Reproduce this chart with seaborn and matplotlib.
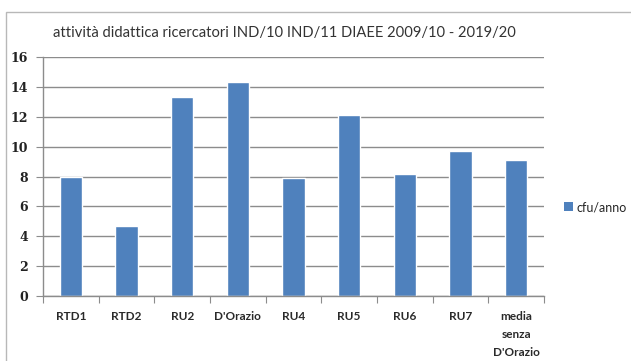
import matplotlib
matplotlib.use("Agg")
import matplotlib.pyplot as plt
from matplotlib.patches import Rectangle, Patch
from matplotlib.ticker import FixedLocator
import seaborn as sns
import pandas as pd

# teaching load per researcher (cfu per year)
categories = ["RTD1", "RTD2", "RU2", "D'Orazio", "RU4", "RU5", "RU6", "RU7",
              "media\nsenza\nD'Orazio"]
cfu_anno = [8.0, 4.7, 13.3, 14.3, 7.9, 12.1, 8.2, 9.7, 9.1]
y_ticks = [0, 2, 4, 6, 8, 10, 12, 14, 16]
series_name = "cfu/anno"
title = "attività didattica ricercatori IND/10 IND/11 DIAEE 2009/10 - 2019/20"

df = pd.DataFrame({"persona": categories, "valore": cfu_anno})

sns.set_theme(style="white")
plt.rcParams["font.family"] = ["Lato", "DejaVu Sans"]

W, H = 631, 361
fig = plt.figure(figsize=(W / 100, H / 100), dpi=100)
fig.patch.set_facecolor("white")

# chart frame
fig.add_artist(Rectangle((6 / W, -0.1), 1.2, 1 - 12 / H + 0.1,
                         transform=fig.transFigure, fill=False,
                         edgecolor="#b8b8b8", linewidth=1.0))

ax = fig.add_axes([43 / W, 1 - 296 / H, (544 - 43) / W, (296 - 57) / H])
bar_color = "#4f81bd"
sns.barplot(data=df, x="persona", y="valore", color=bar_color, width=0.4,
            saturation=1, ax=ax)

ax.set_xlim(-0.5, len(categories) - 0.5)
ax.set_ylim(0, 16)
ax.set_yticks(y_ticks)
ax.set_yticklabels([str(v) for v in y_ticks], family=["DejaVu Serif"],
                   fontweight="bold", fontsize=9, color="#222222")
ax.yaxis.grid(True, color="#8c8c8c", linewidth=1.0)
ax.set_axisbelow(True)

ax.set_xticks(range(len(categories)))
ax.set_xticklabels(categories, fontsize=8.5, fontweight="bold", color="#2a2a2a",
                   linespacing=1.75, va="top")
ax.xaxis.set_minor_locator(FixedLocator([i - 0.5 for i in range(len(categories) + 1)]))
ax.tick_params(axis="x", which="major", length=0, pad=11)
ax.tick_params(axis="x", which="minor", length=5, width=0.8, color="#8c8c8c",
               direction="out", bottom=True)
ax.tick_params(axis="y", which="major", length=5, width=0.8, color="#8c8c8c",
               direction="out", left=True, pad=6)
ax.set_xlabel("")
ax.set_ylabel("")

for side in ["top", "right"]:
    ax.spines[side].set_visible(False)
for side in ["left", "bottom"]:
    ax.spines[side].set_color("#8c8c8c")
    ax.spines[side].set_linewidth(1.0)

fig.text(284 / W, 1 - 33 / H, title, ha="center", va="center",
         fontsize=10.6, color="#333333")

handle = Patch(facecolor=bar_color, edgecolor="none")
fig.legend([handle], [series_name], loc="center left",
           bbox_to_anchor=(564 / W, 1 - 207 / H), frameon=False,
           fontsize=9, handlelength=0.7, handleheight=0.7, handletextpad=0.3,
           borderpad=0, borderaxespad=0)

fig.savefig("out.png", dpi=100, facecolor="white")
